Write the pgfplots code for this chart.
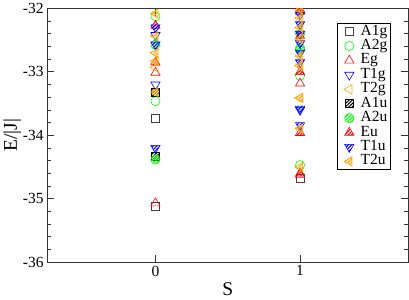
\documentclass[border=0pt]{standalone}
\usepackage{fontspec}
\setmainfont{Liberation Serif}
\usepackage{pgfplots}
\pgfplotsset{compat=1.18}
\usetikzlibrary{patterns.meta}
\definecolor{cg}{RGB}{0,255,0}
\definecolor{cr}{RGB}{255,0,0}
\definecolor{cb}{RGB}{0,0,255}
\definecolor{co}{RGB}{255,165,0}
\begin{document}
\begin{tikzpicture}
\begin{axis}[
  scale only axis, width=360.8bp, height=253.2bp,
  xmin=-0.75, xmax=1.75, ymin=-36, ymax=-32,
  xtick={0,1}, ytick={-36,-35,-34,-33,-32},
  minor y tick num=4,
  tick align=inside, tick pos=both,
  major tick length=7bp, minor tick length=4bp,
  axis line style={black!80, line width=1bp},
  every tick/.style={black!80, line width=0.9bp},
  /pgf/number format/assume math mode=true,
  ticklabel style={font=\fontsize{15.5}{16}\selectfont},
  xlabel={S}, ylabel={E/|J|},
  label style={font=\fontsize{19.5}{20}\selectfont},
  ylabel style={yshift=-5bp},
  clip marker paths=true,
  only marks,
  legend image code/.code={\path (0bp,0bp) (19bp,0bp); \draw[#1] plot coordinates {(9.5bp,0bp)};},
  legend style={at={(rel axis cs:0.951,0.943)}, anchor=north east,
    draw=black, line width=0.8bp, font=\fontsize{15.5}{16}\selectfont,
    inner xsep=1.5bp, inner ysep=1bp,
    nodes={inner xsep=1.5bp, inner ysep=0.5bp, text height=10.2bp, text depth=3.2bp},
    column sep=0bp, row sep=0bp},
  legend cell align=left,
]
\addplot[black!75, mark=square, mark size=4bp, mark options={line width=0.6bp}] coordinates {
(0,-33.73) (0,-35.12) (1,-34.67)};
\addlegendentry{A1g}
\addplot[cg, mark=o, mark size=4.6bp, mark options={line width=0.6bp}] coordinates {
(0,-32.12) (0,-33.46) (1,-32.62) (1,-33.06) (1,-34.47)};
\addlegendentry{A2g}
\addplot[cr, mark=triangle, mark size=5.3bp, mark options={line width=0.6bp}] coordinates {
(0,-33.01) (0,-35.07) (1,-33.18) (1,-32.05) (1,-34.62)};
\addlegendentry{Eg}
\addplot[cb, mark=triangle, mark size=5.3bp, mark options={rotate=180, line width=0.6bp}] coordinates {
(0,-32.42) (0,-33.20) (1,-33.60)};
\addlegendentry{T1g}
\addplot[co, mark=triangle, mark size=5.3bp, mark options={rotate=90, line width=0.6bp}] coordinates {
(0,-32.93) (1,-33.41) (1,-32.90)};
\addlegendentry{T2g}
\addplot[black, mark=square*, mark size=4bp, mark options={line width=0.6bp, pattern={Lines[angle=45,distance=2.4bp,line width=1.1bp]}, pattern color=black}] coordinates {
(0,-33.32) (0,-34.33)};
\addlegendentry{A1u}
\addplot[cg, mark=*, mark size=4.6bp, mark options={line width=0.6bp, pattern={Lines[angle=45,distance=2.4bp,line width=1.1bp]}, pattern color=cg}] coordinates {
(0,-32.57) (0,-34.38) (1,-32.40) (1,-32.65)};
\addlegendentry{A2u}
\addplot[cr, mark=triangle*, mark size=5.3bp, mark options={line width=0.6bp, pattern={Lines[angle=45,distance=2.4bp,line width=1.1bp]}, pattern color=cr}] coordinates {
(0,-32.27) (0,-32.85) (1,-32.02) (1,-32.43) (1,-33.00) (1,-33.96) (1,-34.60)};
\addlegendentry{Eu}
\addplot[cb, mark=triangle*, mark size=5.3bp, mark options={rotate=180, line width=0.6bp, pattern={Lines[angle=45,distance=2.4bp,line width=1.1bp]}, pattern color=cb}] coordinates {
(0,-32.30) (0,-32.57) (0,-34.20) (1,-32.10) (1,-32.25) (1,-32.40) (1,-32.55) (1,-32.70) (1,-32.85) (1,-33.58) (1,-33.84)};
\addlegendentry{T1u}
\addplot[co, mark=triangle*, mark size=5.3bp, mark options={rotate=90, line width=0.6bp, pattern={Lines[angle=45,distance=2.4bp,line width=1.1bp]}, pattern color=co}] coordinates {
(0,-32.08) (0,-32.43) (0,-32.70) (0,-32.83) (0,-33.32) (1,-32.02) (1,-32.15) (1,-32.30) (1,-32.48) (1,-32.75) (1,-32.90) (1,-33.41) (1,-33.89) (1,-34.50)};
\addlegendentry{T2u}
\end{axis}
\end{tikzpicture}
\end{document}
